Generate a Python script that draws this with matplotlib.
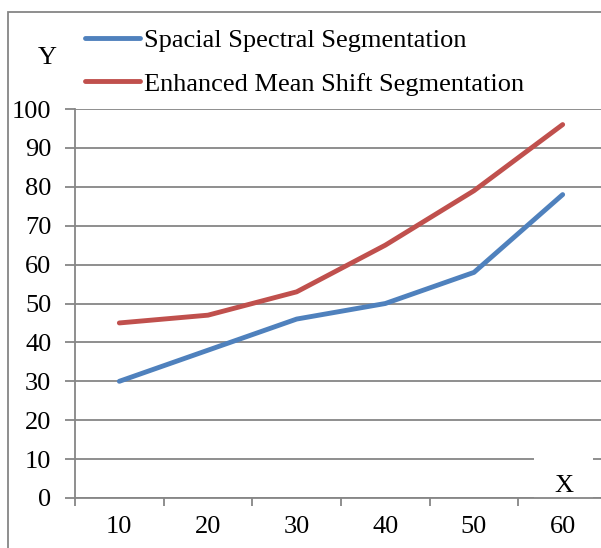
import matplotlib.pyplot as plt
from matplotlib.patches import Rectangle

# data
categories = ['10', '20', '30', '40', '50', '60']
spacial_spectral = [30, 38, 46, 50, 58, 78]
enhanced_mean_shift = [45, 47, 53, 65, 79, 96]
y_ticks = [0, 10, 20, 30, 40, 50, 60, 70, 80, 90, 100]

plt.rcParams['font.family'] = ['Liberation Serif', 'DejaVu Serif']
fs = 19
grid_col = '#868686'

fig = plt.figure(figsize=(6.01, 5.48), dpi=100)
W, H = 601, 548

# outer chart border (cropped on the right and bottom)
fig.patches.append(Rectangle((8 / W, -0.05), 1.1, (H - 12) / H + 0.05,
                             transform=fig.transFigure, fill=False,
                             edgecolor=grid_col, linewidth=1.3))

ax = fig.add_axes([75 / W, (H - 498) / H, 532 / W, 389 / H])
x = range(len(categories))
ax.plot(x, spacial_spectral, color='#4F81BD', linewidth=3.5,
        solid_capstyle='round', label='Spacial Spectral Segmentation')
ax.plot(x, enhanced_mean_shift, color='#C0504D', linewidth=3.5,
        solid_capstyle='round', label='Enhanced Mean Shift Segmentation')

ax.set_xlim(-0.5, len(categories) - 0.5)
ax.set_ylim(0, 100)
ax.set_yticks(y_ticks)
ax.set_yticklabels([str(v) for v in y_ticks], fontsize=fs)
ax.set_xticks(list(x))
ax.set_xticklabels(categories, fontsize=fs)
ax.set_xticks([i - 0.5 for i in range(len(categories) + 1)], minor=True)
ax.tick_params(axis='x', which='major', length=0, pad=13)
ax.tick_params(axis='x', which='minor', length=6, width=1.3, color=grid_col, direction='out')
ax.tick_params(axis='y', length=7, width=1.3, color=grid_col, pad=10)

ax.grid(axis='y', color=grid_col, linewidth=1.3)
ax.set_axisbelow(True)
for side in ['top', 'right']:
    ax.spines[side].set_visible(False)
for side in ['left', 'bottom']:
    ax.spines[side].set_color(grid_col)
    ax.spines[side].set_linewidth(1.3)

leg = ax.legend(loc='upper left', bbox_to_anchor=(85 / W, 1 - 29 / H),
                bbox_transform=fig.transFigure, frameon=False, fontsize=fs,
                handlelength=2.1, handletextpad=0.12, labelspacing=0.75,
                borderpad=0, borderaxespad=0)

fig.text(47 / W, 1 - 58 / H, 'Y', fontsize=fs, ha='center', va='center')

# white box behind the X label, breaking the 10 gridline
ax.add_patch(Rectangle((4.68, 0), 0.66, 10.4, facecolor='white',
                       edgecolor='none', zorder=1.5))
ax.text(5.01, 3.1, 'X', fontsize=fs, ha='center', va='center', zorder=3)

fig.savefig('out.png', dpi=100)
